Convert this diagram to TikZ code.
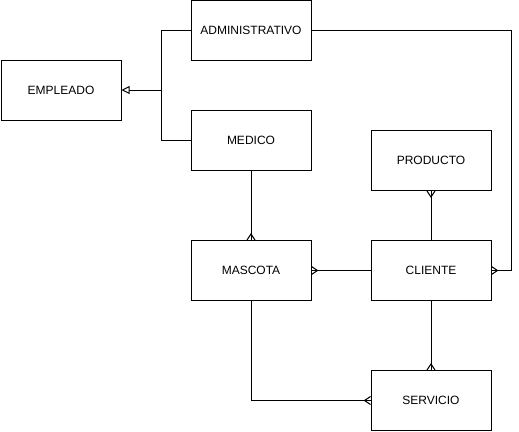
\documentclass[tikz,border=0pt]{standalone}
\usepackage{fontspec}
\setmainfont{Liberation Sans}
\usetikzlibrary{arrows.meta}
\begin{document}
\begin{tikzpicture}[x=1pt,y=-1pt,line width=1pt,
  ent/.style={draw,minimum width=120pt,minimum height=60pt,inner sep=0pt,font=\fontsize{12}{14}\selectfont},
  inh/.style={-{Triangle[open,length=8pt,width=8pt]}},
  foot/.style={line width=1pt}]
\useasboundingbox (0,0) rectangle (519,431);
\node[ent] (emp) at (61,90) {EMPLEADO};
\node[ent] (adm) at (251,30.5) {ADMINISTRATIVO};
\node[ent] (med) at (251,140.5) {MEDICO};
\node[ent] (pro) at (431,160.5) {PRODUCTO};
\node[ent] (mas) at (251,270.5) {MASCOTA};
\node[ent] (cli) at (431,270.5) {CLIENTE};
\node[ent] (ser) at (431,400.5) {SERVICIO};
\coordinate (j) at (161,90);
% inheritance
\draw (adm.west) -| (j);
\draw (med.west) -| (j);
\draw[inh] (j) -- (emp.east);
% relations
\draw (adm.east) -- ++(200,0) |- (cli.east);
\draw (med.south) -- (mas.north);
\draw (cli.west) -- (mas.east);
\draw (cli.north) -- (pro.south);
\draw (cli.south) -- (ser.north);
\draw (mas.south) |- (ser.west);
% crow's feet (yshift is in canvas direction: positive = up)
\draw[foot] ([xshift=-4pt]mas.north) -- ([yshift=6pt]mas.north) -- ([xshift=4pt]mas.north);
\draw[foot] ([yshift=-4pt]mas.east) -- ([xshift=6pt]mas.east) -- ([yshift=4pt]mas.east);
\draw[foot] ([yshift=-4pt]cli.east) -- ([xshift=6pt]cli.east) -- ([yshift=4pt]cli.east);
\draw[foot] ([xshift=-4pt]pro.south) -- ([yshift=-6pt]pro.south) -- ([xshift=4pt]pro.south);
\draw[foot] ([xshift=-4pt]ser.north) -- ([yshift=6pt]ser.north) -- ([xshift=4pt]ser.north);
\draw[foot] ([yshift=-4pt]ser.west) -- ([xshift=-6pt]ser.west) -- ([yshift=4pt]ser.west);
\end{tikzpicture}
\end{document}
